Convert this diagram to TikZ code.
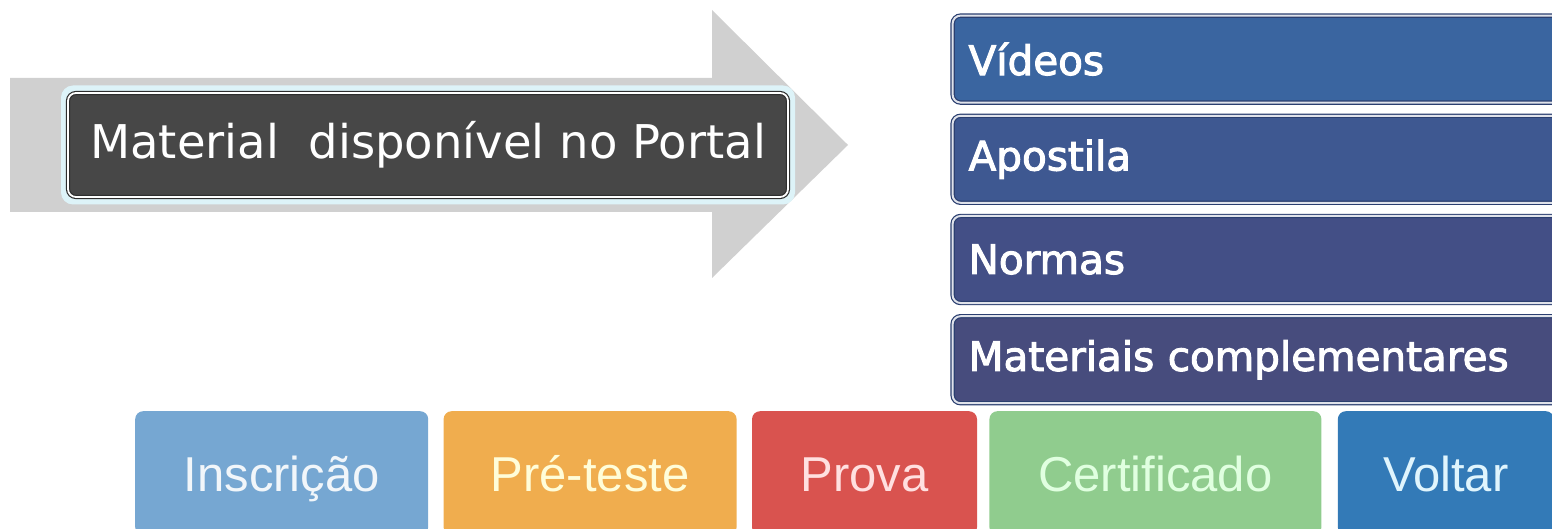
\documentclass[tikz,border=0pt]{standalone}
\usepackage{fontspec}
\setmainfont{DejaVu Sans}
\newfontfamily\buttonfont{Liberation Sans}
\newfontfamily\itemfont{DejaVu Sans}[FakeBold=2.5]
\usetikzlibrary{positioning}

\definecolor{arrowGray}{HTML}{D0D0D0}
\definecolor{portalGray}{HTML}{474747}
\definecolor{portalBorder}{HTML}{2E2E2E}
\definecolor{portalGlow}{HTML}{DDF3F8}
\definecolor{videosBlue}{HTML}{3A65A0}
\definecolor{apostilaBlue}{HTML}{3E5891}
\definecolor{normasBlue}{HTML}{434F86}
\definecolor{materiaisBlue}{HTML}{474C7D}
\definecolor{itemBorder}{HTML}{2B3F70}
\definecolor{inscricaoBlue}{HTML}{76A7D2}
\definecolor{preTesteOrange}{HTML}{F0AD4E}
\definecolor{provaRed}{HTML}{D9534F}
\definecolor{certificadoGreen}{HTML}{90CC8E}
\definecolor{voltarBlue}{HTML}{337AB7}

\begin{document}
\begin{tikzpicture}[
        x=1pt, y=-1pt,
        portal/.style={
            % The shape
            rectangle,
            rounded corners = 8pt,
            minimum width = 720pt,
            minimum height = 104pt,
            % The border
            line width = 1.2pt,
            draw = portalBorder,
            double = white,
            double distance = 1.8pt,
            % The color
            fill = portalGray,
            text = white,
            % Font
            font = \fontsize{46.5}{52}\selectfont
        },
        item/.style={
            % The shape
            rectangle,
            rounded corners = 8pt,
            minimum width = 640pt,
            minimum height = 87pt,
            text width = 608pt,
            align = left,
            % The border
            line width = 1.2pt,
            draw = itemBorder,
            double = white!85!itemBorder,
            double distance = 2pt,
            % The color
            text = white,
            % Font
            font = \fontsize{40.5}{44}\selectfont\itemfont
        },
        button/.style={
            % The shape
            rectangle,
            rounded corners = 8pt,
            minimum height = 124pt,
            inner sep = 0pt,
            text height = 36pt,
            text depth = 0pt,
            % The border
            draw = none,
            % Font
            font = \fontsize{49}{55}\selectfont\buttonfont
        },
    ]
        \useasboundingbox (0,0) rectangle (1552,529);
        \clip (0,0) rectangle (1552,529);

        % the big gray arrow
        \path[fill=arrowGray] (10,78) -- (712,78) -- (712,10) -- (848,145)
            -- (712,278) -- (712,212) -- (10,212) -- cycle;

        \node (portalGlowBox) [rectangle,rounded corners=12pt,fill=portalGlow,
            minimum width=734pt,minimum height=119pt] at (428,145) {};
        \node (materialPortal) [portal] at (428,145) {Material\ \ disponível no Portal};

        \node (videos) [item,fill=videosBlue,anchor=north west] at (952,15) {Vídeos};
        \node (apostila) [item,fill=apostilaBlue,below=12pt of videos] {Apostila};
        \node (normas) [item,fill=normasBlue,below=12pt of apostila] {Normas};
        \node (materiaisComplementares) [item,fill=materiaisBlue,below=12pt of normas] {Materiais complementares};

        \node (inscricao) [button,fill=inscricaoBlue,text=white!90!inscricaoBlue,
            minimum width=293pt,anchor=north west] at (135,411) {Inscrição};
        \node (preTeste) [button,fill=preTesteOrange,text=white!85!yellow,
            minimum width=293pt,right=15pt of inscricao] {Pré-teste};
        \node (prova) [button,fill=provaRed,text=white!88!red,
            minimum width=225pt,right=15pt of preTeste] {Prova};
        \node (certificado) [button,fill=certificadoGreen,text=white!88!green,
            minimum width=332pt,right=12pt of prova] {Certificado};
        \node (voltar) [button,fill=voltarBlue,text=white!88!cyan,
            minimum width=216pt,right=16pt of certificado] {Voltar};

    \end{tikzpicture}
\end{document}
